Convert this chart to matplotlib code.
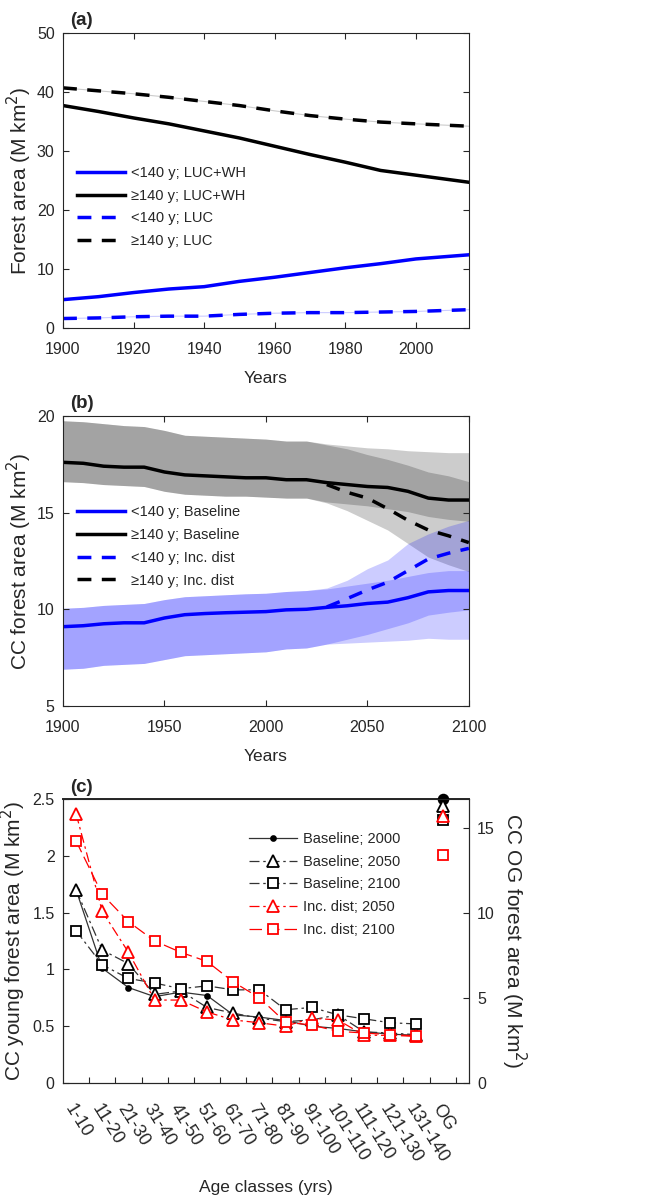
import matplotlib
matplotlib.use("Agg")
import matplotlib.pyplot as plt
import numpy as np

plt.rcParams['font.family'] = ['Liberation Sans', 'DejaVu Sans']
plt.rcParams['font.size'] = 11
plt.rcParams['text.color'] = '#262626'
plt.rcParams['axes.labelcolor'] = '#262626'
plt.rcParams['xtick.color'] = '#262626'
plt.rcParams['ytick.color'] = '#262626'
plt.rcParams['axes.edgecolor'] = '#262626'

# ---- panel (a) data ----
years_a = [1900, 1910, 1920, 1930, 1940, 1950, 1960, 1970, 1980, 1990, 2000, 2015]
young_luc_wh = [4.8, 5.3, 6.0, 6.6, 7.0, 7.9, 8.6, 9.4, 10.2, 10.9, 11.7, 12.4]
old_luc_wh = [37.7, 36.7, 35.6, 34.6, 33.4, 32.2, 30.8, 29.4, 28.1, 26.7, 25.9, 24.7]
young_luc = [1.6, 1.7, 1.9, 2.0, 2.0, 2.3, 2.5, 2.6, 2.6, 2.7, 2.8, 3.1]
old_luc = [40.7, 40.2, 39.7, 39.1, 38.4, 37.7, 36.8, 36.0, 35.4, 34.9, 34.6, 34.2]

# ---- panel (b) data ----
years_b = [1900, 1910, 1920, 1930, 1940, 1950, 1960, 1970, 1980, 1990, 2000,
           2010, 2020, 2030, 2040, 2050, 2060, 2070, 2080, 2090, 2100]
old_base = [17.6, 17.55, 17.4, 17.35, 17.35, 17.1, 16.95, 16.9, 16.85, 16.8, 16.8,
            16.7, 16.7, 16.55, 16.45, 16.35, 16.3, 16.1, 15.75, 15.65, 15.65]
old_base_hi = [19.75, 19.7, 19.6, 19.5, 19.45, 19.25, 19.0, 18.95, 18.9, 18.85, 18.8,
               18.7, 18.7, 18.5, 18.3, 18.0, 17.75, 17.45, 17.1, 16.9, 16.6]
old_base_lo = [16.6, 16.55, 16.45, 16.4, 16.35, 16.1, 15.95, 15.9, 15.85, 15.85, 15.8,
               15.75, 15.75, 15.55, 15.45, 15.35, 15.2, 15.05, 14.8, 14.65, 14.55]
young_base = [9.1, 9.15, 9.25, 9.3, 9.3, 9.55, 9.72, 9.78, 9.82, 9.85, 9.88,
              9.97, 10.0, 10.1, 10.18, 10.3, 10.37, 10.6, 10.9, 10.97, 10.97]
young_base_hi = [10.05, 10.1, 10.2, 10.25, 10.3, 10.5, 10.65, 10.7, 10.75, 10.8, 10.83,
                 10.92, 10.97, 11.05, 11.2, 11.35, 11.5, 11.7, 11.9, 12.0, 12.0]
young_base_lo = [6.9, 6.95, 7.1, 7.15, 7.2, 7.4, 7.6, 7.65, 7.7, 7.75, 7.8,
                 7.95, 8.0, 8.2, 8.45, 8.7, 9.0, 9.3, 9.7, 9.85, 9.97]
years_dist = [2020, 2030, 2040, 2050, 2060, 2070, 2080, 2090, 2100]
old_dist = [16.7, 16.45, 16.05, 15.75, 15.2, 14.6, 14.1, 13.8, 13.45]
old_dist_hi = [18.7, 18.55, 18.45, 18.35, 18.3, 18.2, 18.15, 18.1, 18.1]
old_dist_lo = [15.75, 15.5, 15.1, 14.6, 14.1, 13.4, 12.7, 12.3, 11.95]
young_dist = [10.0, 10.12, 10.55, 11.0, 11.4, 12.0, 12.6, 12.9, 13.15]
young_dist_hi = [10.97, 11.1, 11.5, 12.1, 12.55, 13.4, 13.9, 14.3, 14.6]
young_dist_lo = [8.0, 8.2, 8.25, 8.3, 8.35, 8.4, 8.5, 8.45, 8.45]

# ---- panel (c) data ----
age_classes = ['1-10', '11-20', '21-30', '31-40', '41-50', '51-60', '61-70', '71-80',
               '81-90', '91-100', '101-110', '111-120', '121-130', '131-140', 'OG']
base_2000 = [1.70, 1.01, 0.84, 0.76, 0.80, 0.77, 0.60, 0.58, 0.55, 0.50, 0.48, 0.45, 0.43, 0.42]
base_2050 = [1.70, 1.17, 1.05, 0.78, 0.81, 0.665, 0.615, 0.57, 0.54, 0.555, 0.60, 0.45, 0.44, 0.425]
base_2100 = [1.34, 1.04, 0.92, 0.88, 0.83, 0.855, 0.82, 0.82, 0.645, 0.665, 0.60, 0.565, 0.53, 0.52]
dist_2050 = [2.37, 1.51, 1.15, 0.73, 0.73, 0.625, 0.555, 0.53, 0.50, 0.57, 0.555, 0.42, 0.42, 0.41]
dist_2100 = [2.13, 1.66, 1.42, 1.25, 1.15, 1.07, 0.89, 0.75, 0.535, 0.51, 0.455, 0.44, 0.425, 0.415]
og_values = [16.75, 16.3, 15.5, 15.7, 13.4]  # base 2000, base 2050, base 2100, dist 2050, dist 2100

fig = plt.figure(figsize=(6.61, 12), dpi=100)

TICK_FS = 11.5
YLAB_FS = 15
XLAB_FS = 12.5
LEG_FS = 10.5


def matlab_box(ax):
    ax.tick_params(direction='in', top=True, right=True, length=4, width=0.8,
                   labelsize=TICK_FS)
    ax.tick_params(axis='x', pad=10)
    ax.tick_params(axis='y', pad=6)
    for s in ax.spines.values():
        s.set_linewidth(0.8)


# ================= (a) =================
ax1 = fig.add_axes([0.0953, 0.7267, 0.614, 0.2458])
ax1.plot(years_a, young_luc_wh, color='blue', lw=2.5, label='<140 y; LUC+WH')
ax1.plot(years_a, old_luc_wh, color='black', lw=2.5, label='\u2265140 y; LUC+WH')
ax1.plot(years_a, young_luc, color='#ccccff', lw=0.8)
ax1.plot(years_a, old_luc, color='#cccccc', lw=0.8)
ax1.plot(years_a, young_luc, color='blue', lw=2.5, ls=(0, (4, 3)), label='<140 y; LUC')
ax1.plot(years_a, old_luc, color='black', lw=2.5, ls=(0, (4, 3)), label='\u2265140 y; LUC')
ax1.set_xlim(1900, 2015)
ax1.set_ylim(0, 50)
ax1.set_xticks([1900, 1920, 1940, 1960, 1980, 2000])
ax1.set_yticks([0, 10, 20, 30, 40, 50])
ax1.set_xlabel('Years', fontsize=XLAB_FS, labelpad=10)
ax1.set_ylabel('Forest area (M km$^2$)', fontsize=YLAB_FS, labelpad=2)
matlab_box(ax1)
ax1.legend(loc='center left', bbox_to_anchor=(0.003, 0.41), frameon=False, fontsize=LEG_FS,
           handlelength=3.3, labelspacing=0.6, handletextpad=0.4)
ax1.text(0.018, 1.012, '(a)', transform=ax1.transAxes, fontsize=13.5, fontweight='bold',
         va='bottom')

# ================= (b) =================
ax2 = fig.add_axes([0.0953, 0.4117, 0.614, 0.2417])
ax2.fill_between(years_b, old_base_lo, old_base_hi, color='black', alpha=0.2, lw=0)
ax2.fill_between(years_b, young_base_lo, young_base_hi, color='blue', alpha=0.2, lw=0)
# incr. disturbance envelopes share the history up to 2020
hist = years_b.index(2020)
yd = years_b[:hist] + years_dist
ax2.fill_between(yd, old_base_lo[:hist] + old_dist_lo, old_base_hi[:hist] + old_dist_hi,
                 color='black', alpha=0.2, lw=0)
ax2.fill_between(yd, young_base_lo[:hist] + young_dist_lo, young_base_hi[:hist] + young_dist_hi,
                 color='blue', alpha=0.2, lw=0)
ax2.plot(years_b, young_base, color='blue', lw=2.5, label='<140 y; Baseline')
ax2.plot(years_b, old_base, color='black', lw=2.5, label='\u2265140 y; Baseline')
ax2.plot(years_dist[1:], young_dist[1:], color='blue', lw=2.5, ls=(0, (4, 3)),
         label='<140 y; Inc. dist')
ax2.plot(years_dist[1:], old_dist[1:], color='black', lw=2.5, ls=(0, (4, 3)),
         label='\u2265140 y; Inc. dist')
ax2.set_xlim(1900, 2100)
ax2.set_ylim(5, 20)
ax2.set_xticks([1900, 1950, 2000, 2050, 2100])
ax2.set_yticks([5, 10, 15, 20])
ax2.set_xlabel('Years', fontsize=XLAB_FS, labelpad=10)
ax2.set_ylabel('CC forest area (M km$^2$)', fontsize=YLAB_FS, labelpad=2)
matlab_box(ax2)
ax2.legend(loc='center left', bbox_to_anchor=(0.003, 0.55), frameon=False, fontsize=LEG_FS,
           handlelength=3.3, labelspacing=0.6, handletextpad=0.4)
ax2.text(0.018, 1.012, '(b)', transform=ax2.transAxes, fontsize=13.5, fontweight='bold',
         va='bottom')

# ================= (c) =================
ax3 = fig.add_axes([0.0953, 0.0975, 0.614, 0.2367])
ax3r = ax3.twinx()
pos = np.arange(1, len(age_classes) + 1)
young_pos = pos[:-1]
og_pos = pos[-1]

series = [
    (base_2000, 'black', '-', 'o', 3.5, 'black', 'Baseline; 2000'),
    (base_2050, 'black', (0, (8, 3, 2, 3)), '^', 8.5, 'none', 'Baseline; 2050'),
    (base_2100, 'black', (0, (8, 3, 2, 3)), 's', 7, 'none', 'Baseline; 2100'),
    (dist_2050, 'red', (0, (8, 3, 2, 3)), '^', 8.5, 'none', 'Inc. dist; 2050'),
    (dist_2100, 'red', (0, (10, 4)), 's', 7, 'none', 'Inc. dist; 2100'),
]
for (vals, col, ls, mk, ms, mfc, lab), og in zip(series, og_values):
    lc = '#333333' if col == 'black' else 'red'
    ax3.plot(young_pos, vals, color=lc, ls=ls, lw=0.9, marker=mk, ms=ms,
             mfc=mfc if mfc != 'none' else 'white', mec=col, mew=1.3, label=lab)
    ax3r.plot([og_pos], [og], ls='none', marker=mk, ms=ms + (3.5 if mk == 'o' else 0),
              mfc=mfc if mfc != 'none' else 'white', mec=col, mew=1.3, clip_on=False)

ax3.set_xlim(0.5, 16)
ax3.set_ylim(0, 2.5)
ax3r.set_ylim(0, 16.73)
ax3.set_yticks([0, 0.5, 1, 1.5, 2, 2.5])
ax3.set_yticklabels(['0', '0.5', '1', '1.5', '2', '2.5'])
ax3r.set_yticks([0, 5, 10, 15])
ax3.set_xticks(pos)
ax3.set_xticklabels(age_classes, rotation=-58, ha='left', va='top', rotation_mode='anchor',
                    fontsize=13)
ax3.set_xticks(np.arange(1.5, 16, 1), minor=True)
ax3.tick_params(axis='x', which='major', length=0, pad=13)
ax3.tick_params(axis='x', which='minor', direction='in', length=4, width=0.8)
ax3.tick_params(axis='y', direction='in', length=4, width=0.8, labelsize=TICK_FS, pad=6)
ax3r.tick_params(axis='y', direction='in', length=4, width=0.8, labelsize=TICK_FS, pad=6)
ax3.set_xlabel('Age classes (yrs)', fontsize=XLAB_FS, labelpad=10)
ax3.set_ylabel('CC young forest area (M km$^2$)', fontsize=YLAB_FS, labelpad=3)
ax3r.set_ylabel('CC OG forest area (M km$^2$)', fontsize=YLAB_FS, rotation=270, labelpad=24)
for s in ax3.spines.values():
    s.set_linewidth(0.8)
ax3.spines['top'].set_linewidth(1.4)
ax3.legend(loc='upper left', bbox_to_anchor=(0.425, 0.93), frameon=False, fontsize=LEG_FS,
           handlelength=3.3, labelspacing=0.6, handletextpad=0.4)
ax3.text(0.018, 1.012, '(c)', transform=ax3.transAxes, fontsize=13.5, fontweight='bold',
         va='bottom')

fig.savefig('out.png', dpi=100)
